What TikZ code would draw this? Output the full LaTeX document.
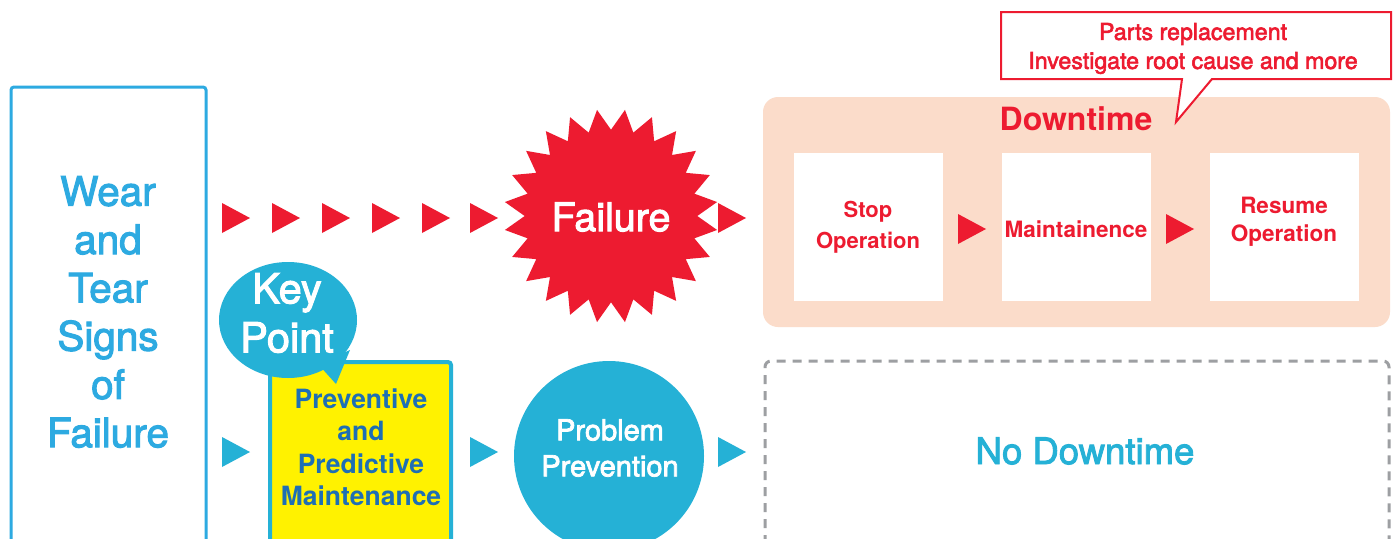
\documentclass[tikz,border=0pt]{standalone}
\usepackage{fontspec}
\setmainfont{TeX Gyre Heros}
\newfontfamily\med[FakeBold=2.5]{TeX Gyre Heros}
\usetikzlibrary{shapes.geometric}
\definecolor{cyanL}{HTML}{2DAAE1}
\definecolor{cyanC}{HTML}{25B1D6}
\definecolor{redC}{HTML}{ED1B30}
\definecolor{peach}{HTML}{FBDCCA}
\definecolor{yel}{HTML}{FFF200}
\definecolor{dblue}{HTML}{1E6FB5}
\definecolor{grayD}{HTML}{9D9FA2}
\newcommand\tri[3]{\fill[#3] ({#1},{#2-15}) -- ({#1+28},{#2}) -- ({#1},{#2+15}) -- cycle;}
\begin{document}
\begin{tikzpicture}[x=1pt,y=-1pt,
  txt/.style={align=center, inner sep=0pt}]
\useasboundingbox (0,0) rectangle (1397,538);
\clip (0,0) rectangle (1397,538);
\fill[white] (0,0) rectangle (1397,538);
% left box
\draw[cyanL, line width=3pt, rounded corners=3pt] (11,560) -- (11,87) -- (206,87) -- (206,560);
\node[txt, text=cyanL, font=\med\fontsize{40.5}{48.3}\selectfont] (wear) at (108,312) {Wear\\and\\Tear\\Signs\\of\\Failure};
% red triangles top
\foreach \x in {222,272,322,372,422,470,718} {\tri{\x}{218}{redC}}
% starburst
\node[star, star points=24, star point ratio=1.24, minimum size=214pt, fill=redC, inner sep=0pt, rotate=7.5] (fail) at (611,216) {};
\node[txt, text=white, font=\med\fontsize{39.5}{44}\selectfont] (failt) at (611,217) {Failure};
% downtime box
\fill[peach, rounded corners=15pt] (763,97) rectangle (1390,327);
\node[txt, text=redC, font=\fontsize{32}{36}\selectfont\bfseries] (down) at (1076,119) {Downtime};
\fill[white] (794,153) rectangle (943,301);
\fill[white] (1002,153) rectangle (1151,301);
\fill[white] (1210,153) rectangle (1359,301);
\node[txt, text=redC, font=\fontsize{22}{31}\selectfont\bfseries] (stop) at (868,227) {Stop\\Operation};
\node[txt, text=redC, font=\fontsize{22.5}{28}\selectfont\bfseries] (maint) at (1076,229) {Maintainence};
\node[txt, text=redC, font=\fontsize{22.5}{28}\selectfont\bfseries] (resume) at (1284,222) {Resume\\Operation};
\tri{958}{229}{redC}
\tri{1166}{229}{redC}
% callout
\draw[redC, line width=2pt, fill=white, line join=miter] (1001,12) -- (1391,12) -- (1391,79) -- (1212,79) -- (1176,122) -- (1182,79) -- (1001,79) -- cycle;
\node[txt, text=redC, font=\med\fontsize{23.2}{29}\selectfont] (callt) at (1193,48.5) {Parts replacement\\Investigate root cause and more};
% bottom row
\foreach \x in {222,470,718} {\tri{\x}{452}{cyanC}}
\draw[cyanC, line width=4pt, fill=yel, rounded corners=3pt] (270,560) -- (270,362) -- (451,362) -- (451,560);
\node[txt, text=dblue, font=\fontsize{26.5}{32.5}\selectfont\bfseries] (prev) at (361,447) {Preventive\\and\\Predictive\\Maintenance};
% key point bubble
\fill[cyanC] (288,320) ellipse [x radius=69, y radius=58];
\fill[cyanC] (318,364) -- (350,350) -- (336,384) -- cycle;
\node[txt, text=white, font=\med\fontsize{41.5}{49}\selectfont] (key) at (287,313) {Key\\Point};
% problem prevention
\fill[cyanC] (609,456) circle (95);
\node[txt, text=white, font=\med\fontsize{29}{36}\selectfont] (prob) at (610,448) {Problem\\Prevention};
% no downtime
\draw[grayD, line width=3pt, dash pattern=on 9pt off 7pt, rounded corners=6pt] (765,560) -- (765,361) -- (1389,361) -- (1389,560);
\node[txt, text=cyanC, font=\med\fontsize{36.5}{40}\selectfont] (nodown) at (1085,451) {No Downtime};
\end{tikzpicture}
\end{document}
